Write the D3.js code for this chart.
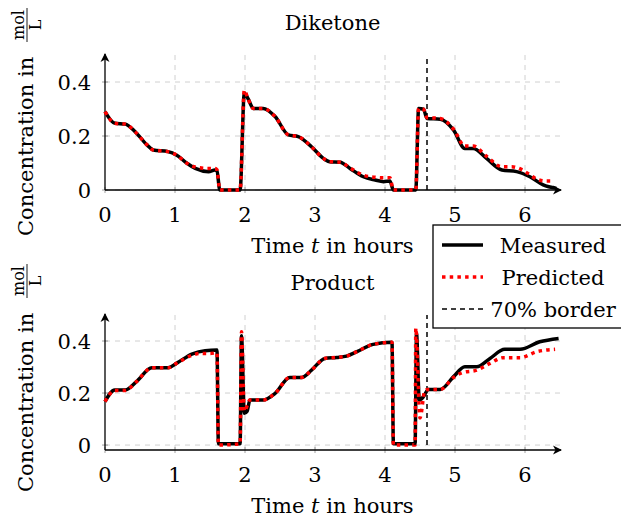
<!DOCTYPE html>
<html>
<head>
<meta charset="utf-8">
<script src="https://cdn.jsdelivr.net/npm/d3@7"></script>
<style>
body { margin: 0; background: #fff; }
text { font-family: "DejaVu Serif", "Liberation Serif", serif; fill: #000; }
</style>
</head>
<body>
<svg id="chart" width="621" height="519"></svg>
<script>
"use strict";

var xTicks = [0, 1, 2, 3, 4, 5, 6]
var yTicks = [0, 0.2, 0.4]
var borderTime = 4.6
var legendLabels = ["Measured", "Predicted", "70% border"]

// [time in hours, concentration in mol/L]
var diketoneMeasured = [
    [0, 0.29], [0.14, 0.247], [0.29, 0.244], [0.43, 0.216], [0.6, 0.167], [0.69, 0.148],
    [0.9, 0.142], [1.02, 0.13], [1.17, 0.099], [1.29, 0.08], [1.48, 0.068], [1.57, 0.074],
    [1.6, 0.07], [1.64, 0], [1.93, 0], [1.99, 0.358], [2.04, 0.34], [2.12, 0.302],
    [2.26, 0.302], [2.43, 0.272], [2.62, 0.204], [2.76, 0.198], [2.95, 0.16], [3.12, 0.117],
    [3.21, 0.105], [3.36, 0.103], [3.5, 0.08], [3.69, 0.049], [3.86, 0.037], [3.98, 0.031],
    [4.07, 0.033], [4.12, 0], [4.44, 0], [4.48, 0.302], [4.55, 0.299], [4.6, 0.265],
    [4.79, 0.262], [4.98, 0.222], [5.14, 0.154], [5.26, 0.154], [5.45, 0.117], [5.67, 0.074],
    [5.88, 0.068], [6.07, 0.049], [6.26, 0.019], [6.45, 0.006]
]
var diketonePredicted = [
    [0, 0.29], [0.14, 0.247], [0.29, 0.244], [0.43, 0.216], [0.6, 0.167], [0.69, 0.148],
    [0.9, 0.142], [1.02, 0.13], [1.17, 0.099], [1.29, 0.085], [1.48, 0.08], [1.57, 0.08],
    [1.6, 0.075], [1.64, 0], [1.93, 0], [1.99, 0.37], [2.04, 0.34], [2.12, 0.302],
    [2.26, 0.302], [2.43, 0.272], [2.62, 0.204], [2.76, 0.198], [2.95, 0.16], [3.12, 0.117],
    [3.21, 0.105], [3.36, 0.103], [3.5, 0.082], [3.69, 0.055], [3.86, 0.047], [3.98, 0.045],
    [4.07, 0.045], [4.12, 0], [4.44, 0], [4.48, 0.302], [4.55, 0.299], [4.6, 0.268],
    [4.79, 0.265], [4.98, 0.225], [5.14, 0.163], [5.26, 0.163], [5.45, 0.125], [5.67, 0.086],
    [5.81, 0.086], [5.94, 0.077], [6.06, 0.058], [6.17, 0.04], [6.3, 0.033], [6.41, 0.033]
]
var productMeasured = [
    [0, 0.167], [0.14, 0.212], [0.29, 0.212], [0.45, 0.244], [0.67, 0.297], [0.9, 0.297],
    [1.02, 0.314], [1.24, 0.35], [1.43, 0.363], [1.6, 0.365], [1.62, 0.005], [1.93, 0.005],
    [1.95, 0.42], [1.99, 0.122], [2.03, 0.13], [2.07, 0.173], [2.26, 0.173], [2.43, 0.199],
    [2.64, 0.26], [2.81, 0.26], [2.95, 0.288], [3.14, 0.333], [3.31, 0.337], [3.45, 0.342],
    [3.6, 0.359], [3.83, 0.387], [4.1, 0.395], [4.12, 0.005], [4.43, 0.005], [4.45, 0.43],
    [4.49, 0.173], [4.55, 0.186], [4.62, 0.214], [4.79, 0.214], [4.98, 0.263], [5.14, 0.301],
    [5.31, 0.301], [5.5, 0.333], [5.71, 0.368], [5.93, 0.368], [6.21, 0.397], [6.48, 0.41]
]
var productPredicted = [
    [0, 0.167], [0.14, 0.21], [0.29, 0.21], [0.45, 0.244], [0.67, 0.297], [0.9, 0.297],
    [1.02, 0.314], [1.24, 0.345], [1.36, 0.352], [1.5, 0.352], [1.6, 0.355], [1.62, 0],
    [1.93, 0.005], [1.95, 0.436], [1.99, 0.13], [2.07, 0.173], [2.26, 0.173], [2.43, 0.199],
    [2.64, 0.26], [2.81, 0.26], [2.95, 0.288], [3.14, 0.333], [3.31, 0.337], [3.45, 0.342],
    [3.6, 0.359], [3.83, 0.387], [4.1, 0.395], [4.12, 0], [4.43, 0], [4.44, 0.449],
    [4.5, 0.104], [4.57, 0.21], [4.62, 0.214], [4.79, 0.214], [4.98, 0.26], [5.1, 0.278],
    [5.31, 0.288], [5.5, 0.314], [5.69, 0.336], [5.93, 0.336], [6.17, 0.359], [6.43, 0.368]
]

var svg = d3.select("#chart")

var defs = svg.append("defs")
defs.append("marker")
    .attr("id", "arrow")
    .attr("viewBox", "0 -5 10 10")
    .attr("refX", 8).attr("refY", 0)
    .attr("markerWidth", 10).attr("markerHeight", 10)
    .attr("markerUnits", "userSpaceOnUse")
    .attr("orient", "auto")
    .append("path")
    .attr("d", "M0,-4.5 L9,0 L0,4.5 L2.5,0 Z")
    .attr("fill", "#000")

function createLadders(yMin, top, bottom) {
    var x = d3.scaleLinear().domain([0, 6.5]).range([105, 560])
    var y = d3.scaleLinear().domain([yMin, 0.5]).range([bottom, top])
    return [x, y]
}

function createLine(x, y) {
    return d3.line()
        .x(d => x(d[0]))
        .y(d => y(d[1]))
        .curve(d3.curveMonotoneX)
}

function drawGrid(g, x, y) {
    var [y0, y1] = y.range()
    g.selectAll(".vgrid").data(xTicks.slice(1)).join("line")
        .attr("x1", d => x(d)).attr("x2", d => x(d))
        .attr("y1", y0).attr("y2", y1)
        .attr("stroke", "#d0d0d0").attr("stroke-dasharray", "5,5")
    g.selectAll(".hgrid").data(yTicks).join("line")
        .attr("x1", x(0)).attr("x2", x(6.5))
        .attr("y1", d => y(d)).attr("y2", d => y(d))
        .attr("stroke", "#d0d0d0").attr("stroke-dasharray", "5,5")
}

function drawAxes(g, x, y) {
    var [y0, y1] = y.range()
    // tick marks
    g.append("g").selectAll("line").data(yTicks).join("line")
        .attr("x1", x(0) - 3).attr("x2", x(0) + 3)
        .attr("y1", d => y(d)).attr("y2", d => y(d))
        .attr("stroke", "#888").attr("stroke-width", 0.8)
    g.append("g").selectAll("line").data(xTicks).join("line")
        .attr("x1", d => x(d)).attr("x2", d => x(d))
        .attr("y1", y0 - 3).attr("y2", y0 + 3)
        .attr("stroke", "#888").attr("stroke-width", 0.8)

    g.append("line")
        .attr("x1", x(0)).attr("x2", x(6.5) + 1)
        .attr("y1", y0).attr("y2", y0)
        .attr("stroke", "#000").attr("stroke-width", 1.3)
        .attr("marker-end", "url(#arrow)")
    g.append("line")
        .attr("x1", x(0)).attr("x2", x(0))
        .attr("y1", y0).attr("y2", y1 - 1)
        .attr("stroke", "#000").attr("stroke-width", 1.3)
        .attr("marker-end", "url(#arrow)")

    g.append("g").selectAll("text").data(yTicks).join("text")
        .attr("x", x(0) - 14).attr("y", d => y(d) + 8)
        .attr("text-anchor", "end")
        .attr("font-size", 21)
        .text(d => d === 0 ? "0" : d3.format(".1f")(d))
    g.append("g").selectAll("text").data(xTicks).join("text")
        .attr("x", d => x(d)).attr("y", y0 + 32)
        .attr("text-anchor", "middle")
        .attr("font-size", 21)
        .text(d => d)

    var xLabel = g.append("text")
        .attr("x", (x(0) + x(6.5)) / 2).attr("y", y0 + 63)
        .attr("text-anchor", "middle")
        .attr("font-size", 21)
    xLabel.append("tspan").text("Time ")
    xLabel.append("tspan").attr("font-style", "italic").text("t")
    xLabel.append("tspan").text(" in hours")
}

function drawYLabel(g, yStart, fracCenter) {
    g.append("text")
        .attr("transform", "translate(33," + yStart + ") rotate(-90)")
        .attr("font-size", 21)
        .text("Concentration in")
    var frac = g.append("g")
        .attr("transform", "translate(27," + fracCenter + ") rotate(-90)")
    frac.append("text").attr("text-anchor", "middle").attr("y", -3)
        .attr("font-size", 16).text("mol")
    frac.append("text").attr("text-anchor", "middle").attr("y", 14)
        .attr("font-size", 16).text("L")
    frac.append("line")
        .attr("x1", -17).attr("x2", 17)
        .attr("stroke", "#000").attr("stroke-width", 0.9)
}

function drawPanel(title, measured, predicted, yMin, top, bottom) {
    var [x, y] = createLadders(yMin, top, bottom)
    var g = svg.append("g")
    drawGrid(g, x, y)
    drawAxes(g, x, y)

    g.append("text")
        .attr("x", (x(0) + x(6.5)) / 2).attr("y", top - 25)
        .attr("text-anchor", "middle")
        .attr("font-size", 21)
        .text(title)

    var line = createLine(x, y)
    g.append("line")
        .attr("x1", x(borderTime)).attr("x2", x(borderTime))
        .attr("y1", y(0)).attr("y2", y(0.5))
        .attr("stroke", "#000").attr("stroke-width", 1.5)
        .attr("stroke-dasharray", "5,4")
    g.append("path").datum(measured)
        .attr("d", line)
        .attr("fill", "none").attr("stroke", "#000")
        .attr("stroke-width", 3.5).attr("stroke-linejoin", "round")
    g.append("path").datum(predicted)
        .attr("d", line)
        .attr("fill", "none").attr("stroke", "#ff0000")
        .attr("stroke-width", 3.5).attr("stroke-dasharray", "3.5,4.2")
}

drawPanel("Diketone", diketoneMeasured, diketonePredicted, 0, 55, 190)
drawPanel("Product", productMeasured, productPredicted, -0.019, 315, 450)

drawYLabel(svg.append("g"), 236, 25)
drawYLabel(svg.append("g"), 492, 281)

// legend
var legend = svg.append("g").attr("transform", "translate(433,225)")
legend.append("rect")
    .attr("width", 200).attr("height", 103)
    .attr("fill", "#fff").attr("stroke", "#000").attr("stroke-width", 1.3)
var rowY = d3.scalePoint().domain(legendLabels).range([20, 84])
var styles = [
    {stroke: "#000", width: 3.5, dash: null},
    {stroke: "#ff0000", width: 3.5, dash: "3.5,4.2"},
    {stroke: "#000", width: 1.5, dash: "5,4"}
]
legendLabels.forEach(function (label, i) {
    legend.append("line")
        .attr("x1", 9).attr("x2", 50)
        .attr("y1", rowY(label)).attr("y2", rowY(label))
        .attr("stroke", styles[i].stroke)
        .attr("stroke-width", styles[i].width)
        .attr("stroke-dasharray", styles[i].dash)
    legend.append("text")
        .attr("x", 120).attr("y", rowY(label) + 8)
        .attr("text-anchor", "middle")
        .attr("font-size", 21)
        .text(label)
})
</script>
</body>
</html>
